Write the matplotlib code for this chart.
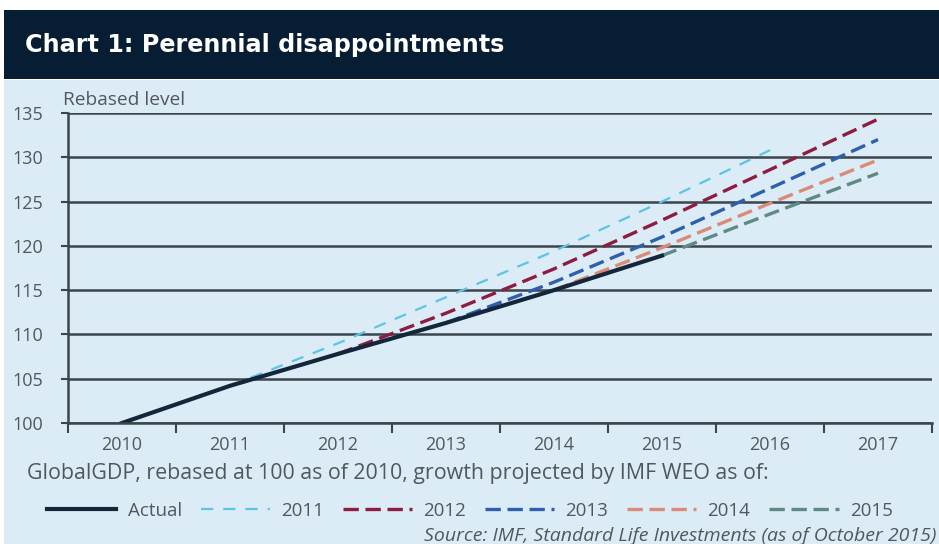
import matplotlib
matplotlib.use("Agg")
import matplotlib.pyplot as plt
from matplotlib.patches import Rectangle
import numpy as np

years = ["2010", "2011", "2012", "2013", "2014", "2015", "2016", "2017"]
actual = [100.0, 104.2, 107.8, 111.3, 115.0, 118.9]
proj_2011 = [104.2, 109.0, 114.2, 119.4, 125.0, 130.8]
proj_2012 = [107.8, 112.4, 117.4, 122.9, 128.6, 134.3]
proj_2013 = [111.3, 115.9, 121.0, 126.5, 132.0]
proj_2014 = [115.0, 119.8, 124.8, 129.7]
proj_2015 = [118.9, 123.6, 128.2]
yticks = [100, 105, 110, 115, 120, 125, 130, 135]

W, H = 939, 544
fig = plt.figure(figsize=(W / 100, H / 100), dpi=100)
fig.patch.set_facecolor("white")
bg = "#dcecf7"
txt = "#50585e"
fig.patches.append(Rectangle((4 / W, 0), 1 - 4 / W, 1 - 80 / H, transform=fig.transFigure,
                             facecolor=bg, edgecolor="none", zorder=-10))
fig.patches.append(Rectangle((4 / W, 1 - 79 / H), 1 - 4 / W, 69 / H, transform=fig.transFigure,
                             facecolor="#071d33", edgecolor="none", zorder=-9))
fig.text(25 / W, 1 - 45 / H, "Chart 1: Perennial disappointments", color="white",
         fontsize=17.2, fontweight="bold", family="DejaVu Sans", va="center", ha="left")

ax = fig.add_axes([68 / W, 121 / H, 864 / W, 310 / H])
ax.patch.set_alpha(0)
ax.set_xlim(-0.5, len(years) - 0.5)
ax.set_ylim(100, 135)
ax.set_yticks(yticks)
ax.set_yticklabels([str(v) for v in yticks])
ax.set_xticks(range(len(years)))
ax.set_xticklabels(years)
ax.set_xticks(np.arange(-0.5, len(years), 1.0), minor=True)
ax.tick_params(axis="x", which="major", length=0, pad=9, labelsize=13, labelcolor=txt)
ax.tick_params(axis="x", which="minor", length=7, width=1.5, color="#3a454c", direction="out")
ax.tick_params(axis="y", length=5, width=1.5, color="#3a454c", pad=13, labelsize=13, labelcolor=txt)
for lab in ax.get_xticklabels() + ax.get_yticklabels():
    lab.set_family("Open Sans")
ax.grid(axis="y", color="#3a454c", linewidth=1.8)
ax.set_axisbelow(True)
for s in ["top", "right"]:
    ax.spines[s].set_visible(False)
for s in ["left", "bottom"]:
    ax.spines[s].set_color("#3a454c")
    ax.spines[s].set_linewidth(1.8)

x = np.arange(len(years))
c_act = "#14263a"
c11 = "#5cc4e4"
c12 = "#8e1b40"
c13 = "#2d5fae"
c14 = "#d98a78"
c15 = "#5e8a86"
lw = 2.4
dash = (4.6, 2.0)
h11, = ax.plot(x[1:1 + len(proj_2011)], proj_2011, color=c11, lw=1.6, dashes=(5.5, 4.5), label="2011")
h15, = ax.plot(x[5:5 + len(proj_2015)], proj_2015, color=c15, lw=lw, dashes=dash, label="2015")
h14, = ax.plot(x[4:4 + len(proj_2014)], proj_2014, color=c14, lw=lw, dashes=dash, label="2014")
h13, = ax.plot(x[3:3 + len(proj_2013)], proj_2013, color=c13, lw=lw, dashes=dash, label="2013")
h12, = ax.plot(x[2:2 + len(proj_2012)], proj_2012, color=c12, lw=lw, dashes=dash, label="2012")
ha, = ax.plot(x[:len(actual)], actual, color=c_act, lw=3.0, label="Actual")

ax.text(-0.006, 1.012, "Rebased level", transform=ax.transAxes, fontsize=13.8, color=txt,
        family="Open Sans", ha="left", va="bottom")

fig.text(27 / W, 1 - 474 / H, "GlobalGDP, rebased at 100 as of 2010, growth projected by IMF WEO as of:",
         fontsize=15.4, color=txt, family="Open Sans", va="center", ha="left")

leg = fig.legend(handles=[ha, h11, h12, h13, h14, h15], labels=["Actual", "2011", "2012", "2013", "2014", "2015"],
                 loc="center left", bbox_to_anchor=(47 / W, 1 - 511 / H), ncol=6, frameon=False,
                 handlelength=3.7, handletextpad=0.6, columnspacing=1.0, borderaxespad=0, borderpad=0,
                 prop={"family": "Open Sans", "size": 13.5})
for t in leg.get_texts():
    t.set_color(txt)

fig.text(936 / W, 1 - 536 / H, "Source: IMF, Standard Life Investments (as of October 2015)",
         fontsize=14, color=txt, family="Open Sans", style="italic", va="center", ha="right")

fig.savefig("out.png", dpi=100, facecolor=fig.get_facecolor())
